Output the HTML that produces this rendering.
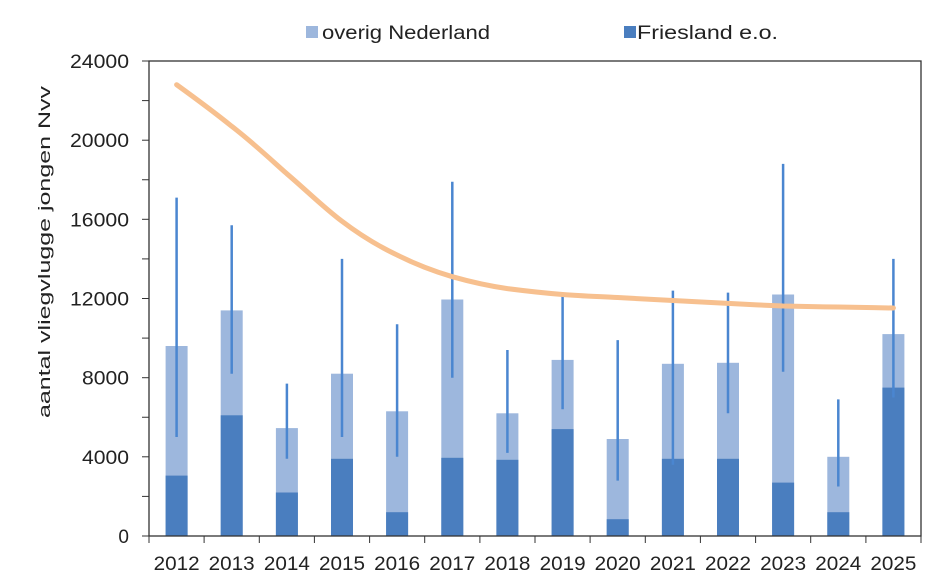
<!DOCTYPE html><html><head><style>body{margin:0;background:#fff}svg text{font-family:"Liberation Sans",sans-serif;fill:#222}</style></head><body>
<svg width="952" height="583" xmlns="http://www.w3.org/2000/svg">
<g fill="#9db7dd">
<rect x="165.6" y="346" width="22" height="190"/>
<rect x="220.7" y="310.4" width="22" height="225.6"/>
<rect x="275.9" y="428.1" width="22" height="107.9"/>
<rect x="331" y="373.7" width="22" height="162.3"/>
<rect x="386.1" y="411.3" width="22" height="124.7"/>
<rect x="441.3" y="299.5" width="22" height="236.5"/>
<rect x="496.4" y="413.3" width="22" height="122.7"/>
<rect x="551.6" y="359.9" width="22" height="176.1"/>
<rect x="606.7" y="439" width="22" height="97"/>
<rect x="661.9" y="363.8" width="22" height="172.2"/>
<rect x="717" y="362.8" width="22" height="173.2"/>
<rect x="772.1" y="294.5" width="22" height="241.5"/>
<rect x="827.3" y="456.8" width="22" height="79.2"/>
<rect x="882.4" y="334.1" width="22" height="201.9"/>
</g>
<g fill="#4a7ebf">
<rect x="165.6" y="475.6" width="22" height="60.4"/>
<rect x="220.7" y="415.3" width="22" height="120.7"/>
<rect x="275.9" y="492.5" width="22" height="43.5"/>
<rect x="331" y="458.8" width="22" height="77.2"/>
<rect x="386.1" y="512.2" width="22" height="23.8"/>
<rect x="441.3" y="457.8" width="22" height="78.2"/>
<rect x="496.4" y="459.8" width="22" height="76.2"/>
<rect x="551.6" y="429.1" width="22" height="106.9"/>
<rect x="606.7" y="519.2" width="22" height="16.8"/>
<rect x="661.9" y="458.8" width="22" height="77.2"/>
<rect x="717" y="458.8" width="22" height="77.2"/>
<rect x="772.1" y="482.6" width="22" height="53.4"/>
<rect x="827.3" y="512.2" width="22" height="23.8"/>
<rect x="882.4" y="387.6" width="22" height="148.4"/>
</g>
<g stroke="#4a86d0" stroke-width="2.5">
<line x1="176.6" x2="176.6" y1="437" y2="197.6"/>
<line x1="231.7" x2="231.7" y1="373.7" y2="225.3"/>
<line x1="286.9" x2="286.9" y1="458.8" y2="383.6"/>
<line x1="342" x2="342" y1="437" y2="258.9"/>
<line x1="397.1" x2="397.1" y1="456.8" y2="324.2"/>
<line x1="452.3" x2="452.3" y1="377.7" y2="181.7"/>
<line x1="507.4" x2="507.4" y1="452.9" y2="350"/>
<line x1="562.6" x2="562.6" y1="409.3" y2="296.5"/>
<line x1="617.7" x2="617.7" y1="480.6" y2="340.1"/>
<line x1="672.9" x2="672.9" y1="464.7" y2="290.6"/>
<line x1="728" x2="728" y1="413.3" y2="292.6"/>
<line x1="783.1" x2="783.1" y1="371.7" y2="163.9"/>
<line x1="838.3" x2="838.3" y1="486.5" y2="399.4"/>
<line x1="893.4" x2="893.4" y1="397.5" y2="258.9"/>
</g>
<path d="M176.6 84.7 C195 98 214 112 231.7 126.3 C251 141 268 157 286.9 173.8 C306 190 323 207 342 221.3 C360 235 378 246 397.1 255 C415 264 433 271 452.3 276.7 C471 282 489 286 507.4 288.6 C526 291 544 293 562.6 294.5 C581 296 599 296.5 617.7 297.5 C636 298.5 654 299.5 672.9 300.5 C691 301.5 710 302.5 728 303.4 C746 304.3 765 305.3 783.1 306 C802 306.5 820 306.8 838.3 307 C857 307.3 875 307.7 893.4 308" fill="none" stroke="#f7c08f" stroke-width="5" stroke-linecap="round"/>
<rect x="149" y="61" width="772" height="475" fill="none" stroke="#333" stroke-width="1.3"/>
<g stroke="#333">
<line x1="142" x2="149" y1="536" y2="536"/><line x1="142" x2="149" y1="496.4" y2="496.4"/><line x1="142" x2="149" y1="456.8" y2="456.8"/><line x1="142" x2="149" y1="417.25" y2="417.25"/><line x1="142" x2="149" y1="377.7" y2="377.7"/><line x1="142" x2="149" y1="338.1" y2="338.1"/><line x1="142" x2="149" y1="298.5" y2="298.5"/><line x1="142" x2="149" y1="258.9" y2="258.9"/><line x1="142" x2="149" y1="219.3" y2="219.3"/><line x1="142" x2="149" y1="179.75" y2="179.75"/><line x1="142" x2="149" y1="140.2" y2="140.2"/><line x1="142" x2="149" y1="100.6" y2="100.6"/><line x1="142" x2="149" y1="61" y2="61"/>
<line x1="149" x2="149" y1="536" y2="543"/><line x1="204.1" x2="204.1" y1="536" y2="543"/><line x1="259.3" x2="259.3" y1="536" y2="543"/><line x1="314.4" x2="314.4" y1="536" y2="543"/><line x1="369.6" x2="369.6" y1="536" y2="543"/><line x1="424.7" x2="424.7" y1="536" y2="543"/><line x1="479.9" x2="479.9" y1="536" y2="543"/><line x1="535" x2="535" y1="536" y2="543"/><line x1="590.1" x2="590.1" y1="536" y2="543"/><line x1="645.3" x2="645.3" y1="536" y2="543"/><line x1="700.4" x2="700.4" y1="536" y2="543"/><line x1="755.6" x2="755.6" y1="536" y2="543"/><line x1="810.7" x2="810.7" y1="536" y2="543"/><line x1="865.9" x2="865.9" y1="536" y2="543"/><line x1="921" x2="921" y1="536" y2="543"/>
</g>
<g font-size="19" text-anchor="end" lengthAdjust="spacingAndGlyphs">
<text x="129" y="543">0</text><text x="129" y="463.8" textLength="47" lengthAdjust="spacingAndGlyphs">4000</text><text x="129" y="384.7" textLength="47" lengthAdjust="spacingAndGlyphs">8000</text><text x="129" y="305.5" textLength="59" lengthAdjust="spacingAndGlyphs">12000</text><text x="129" y="226.3" textLength="59" lengthAdjust="spacingAndGlyphs">16000</text><text x="129" y="147.2" textLength="59" lengthAdjust="spacingAndGlyphs">20000</text><text x="129" y="68" textLength="59" lengthAdjust="spacingAndGlyphs">24000</text>
</g>
<g font-size="19">
<text x="153.6" y="570" textLength="46" lengthAdjust="spacingAndGlyphs">2012</text><text x="208.7" y="570" textLength="46" lengthAdjust="spacingAndGlyphs">2013</text><text x="263.9" y="570" textLength="46" lengthAdjust="spacingAndGlyphs">2014</text><text x="319" y="570" textLength="46" lengthAdjust="spacingAndGlyphs">2015</text><text x="374.1" y="570" textLength="46" lengthAdjust="spacingAndGlyphs">2016</text><text x="429.3" y="570" textLength="46" lengthAdjust="spacingAndGlyphs">2017</text><text x="484.4" y="570" textLength="46" lengthAdjust="spacingAndGlyphs">2018</text><text x="539.6" y="570" textLength="46" lengthAdjust="spacingAndGlyphs">2019</text><text x="594.7" y="570" textLength="46" lengthAdjust="spacingAndGlyphs">2020</text><text x="649.9" y="570" textLength="46" lengthAdjust="spacingAndGlyphs">2021</text><text x="705" y="570" textLength="46" lengthAdjust="spacingAndGlyphs">2022</text><text x="760.1" y="570" textLength="46" lengthAdjust="spacingAndGlyphs">2023</text><text x="815.3" y="570" textLength="46" lengthAdjust="spacingAndGlyphs">2024</text><text x="870.4" y="570" textLength="46" lengthAdjust="spacingAndGlyphs">2025</text>
</g>
<rect x="306" y="26" width="12" height="12" fill="#9db7dd"/><text x="322" y="39" font-size="19" textLength="168" lengthAdjust="spacingAndGlyphs">overig Nederland</text>
<rect x="624" y="26" width="12" height="12" fill="#4a7ebf"/><text x="637" y="39" font-size="19" textLength="141" lengthAdjust="spacingAndGlyphs">Friesland e.o.</text>
<text transform="translate(50,418) rotate(-90)" font-size="17" textLength="332" lengthAdjust="spacingAndGlyphs">aantal vliegvlugge jongen Nvv</text>
</svg></body></html>
